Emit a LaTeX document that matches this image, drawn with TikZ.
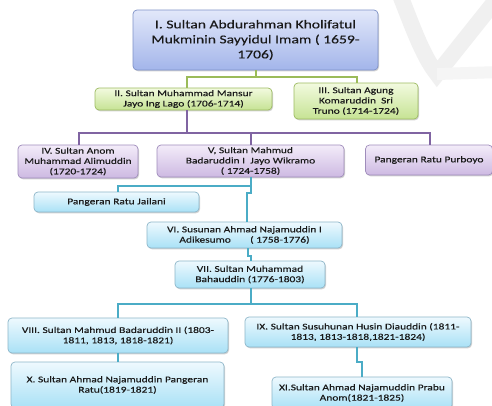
\documentclass[tikz,border=0pt]{standalone}
\usepackage{fontspec}
\setmainfont{Carlito}[FakeStretch=1.3,FakeBold=0.3]
\usetikzlibrary{shadows,calc}
\definecolor{topA}{HTML}{E2E8FA}
\definecolor{topB}{HTML}{A3B5EA}
\definecolor{topD}{HTML}{7F92C8}
\definecolor{grA}{HTML}{F2FADF}
\definecolor{grB}{HTML}{C6E394}
\definecolor{grD}{HTML}{9DBB62}
\definecolor{puA}{HTML}{F3ECF9}
\definecolor{puB}{HTML}{CDB9E2}
\definecolor{puD}{HTML}{9F8CBB}
\definecolor{blA}{HTML}{EEF9FE}
\definecolor{blB}{HTML}{A9E1F6}
\definecolor{blD}{HTML}{8DB6C9}
\definecolor{gline}{HTML}{9BBB59}
\definecolor{pline}{HTML}{8064A2}
\definecolor{tline}{HTML}{4BACC6}
\tikzset{
  box/.style={rounded corners=4pt, draw, line width=0.7pt, align=center, inner sep=1pt,
    font=\fontsize{8.8}{10.3}\selectfont, text=black!90,
    drop shadow={shadow xshift=1pt, shadow yshift=-1.3pt, opacity=0.35}},
  topbox/.style={box, top color=topA, bottom color=topB, draw=topD, font=\fontsize{12}{15}\selectfont},
  gbox/.style={box, top color=grA, bottom color=grB, draw=grD},
  pbox/.style={box, top color=puA, bottom color=puB, draw=puD},
  bbox/.style={box, top color=blA, bottom color=blB, draw=blD},
  gconn/.style={draw=gline, line width=2pt},
  pconn/.style={draw=pline, line width=2pt},
  tconn/.style={draw=tline, line width=2pt},
}
\begin{document}
\begin{tikzpicture}[x=1pt,y=-1pt]
\useasboundingbox (0,0) rectangle (492,405);
\fill[white] (0,0) rectangle (492,405);
% faint watermark
\draw[black!6, line width=16pt, line join=miter]
  (398,-10) .. controls (412,25) and (422,55) .. (437,74) -- (500,-5);
\draw[black!4, line width=12pt] (437,74) -- (500,72);

\node[topbox, minimum width=245, minimum height=60] (top) at (255.5,40)
  {I. Sultan Abdurahman Kholifatul\\Mukminin Sayyidul Imam ( 1659-\\1706)};

\node[gbox, minimum width=177, minimum height=22] (II) at (183.5,99)
  {II. Sultan Muhammad Mansur\\Jayo Ing Lago (1706-1714)};
\node[gbox, minimum width=124, minimum height=36] (III) at (356,101)
  {III. Sultan Agung\\Komaruddin\ \ Sri\\Truno (1714-1724)};

\node[pbox, minimum width=120, minimum height=33] (IV) at (78,161.5)
  {IV. Sultan Anom\\Muhammad Alimuddin\\(1720-1724)};
\node[pbox, minimum width=187, minimum height=32] (V) at (250.5,161)
  {V, Sultan Mahmud\\Badaruddin I\ \ Jayo Wikramo\\( 1724-1758)};
\node[pbox, minimum width=127, minimum height=30] (PB) at (429,160)
  {Pangeran Ratu Purboyo};

\node[bbox, minimum width=165, minimum height=20] (JL) at (116.5,202)
  {Pangeran Ratu Jailani};
\node[bbox, minimum width=195, minimum height=26] (VI) at (244.5,235)
  {VI. Susunan Ahmad Najamuddin I\\Adikesumo\hspace{2.2em}( 1758-1776)};
\node[bbox, minimum width=150, minimum height=27] (VII) at (250,274.5)
  {VII. Sultan Muhammad\\Bahauddin (1776-1803)};

\node[bbox, minimum width=220, minimum height=35] (VIII) at (118,335.5)
  {VIII. Sultan Mahmud Badaruddin II (1803-\\1811, 1813, 1818-1821)};
\node[bbox, minimum width=226, minimum height=30] (IX) at (358,332)
  {IX. Sultan Susuhunan Husin Diauddin (1811-\\1813, 1813-1818,1821-1824)};
\node[bbox, minimum width=213, minimum height=46] (X) at (117.5,385)
  {X. Sultan Ahmad Najamuddin Pangeran\\Ratu(1819-1821)};
\node[bbox, minimum width=180, minimum height=32] (XI) at (362,393)
  {XI.Sultan Ahmad Najamuddin Prabu\\Anom(1821-1825)};

% green connectors
\draw[gconn] (top.south) -- ++(0,7) coordinate (g1);
\draw[gconn] (g1) -| ([xshift=3]II.north);
\draw[gconn] (g1) -| ([xshift=1]III.north);
% purple connectors
\draw[pconn] ([xshift=3]II.south) -- ++(0,23) coordinate (p1);
\draw[pconn] (p1) -| ([xshift=1]IV.north);
\draw[pconn] (p1) -| ([xshift=0.5]V.north);
\draw[pconn] (p1) -| ([xshift=1]PB.north);
% teal connectors
\draw[tconn] ([xshift=0.5]V.south) -- ++(0,9) coordinate (t1);
\draw[tconn] (t1) -| ([xshift=1.5]JL.north);
\draw[tconn] (t1) -- ++(0,7) -- ++(-4,0) -- ([xshift=2.5]VI.north);
\draw[tconn] ([xshift=3.5]VI.south) -- ++(0,8) -- ++(3,0) -- ([xshift=1]VII.north);
\draw[tconn] ([xshift=1]VII.south) -- ++(0,16) coordinate (t2);
\draw[tconn] (t2) -| (VIII.north);
\draw[tconn] (t2) -| ([xshift=-1]IX.north);
\draw[tconn] (VIII.south) -- ([xshift=0.5]X.north);
\draw[tconn] ([xshift=-1]IX.south) -- ++(0,15) -- ++(5,0) -- (XI.north);
\end{tikzpicture}
\end{document}
